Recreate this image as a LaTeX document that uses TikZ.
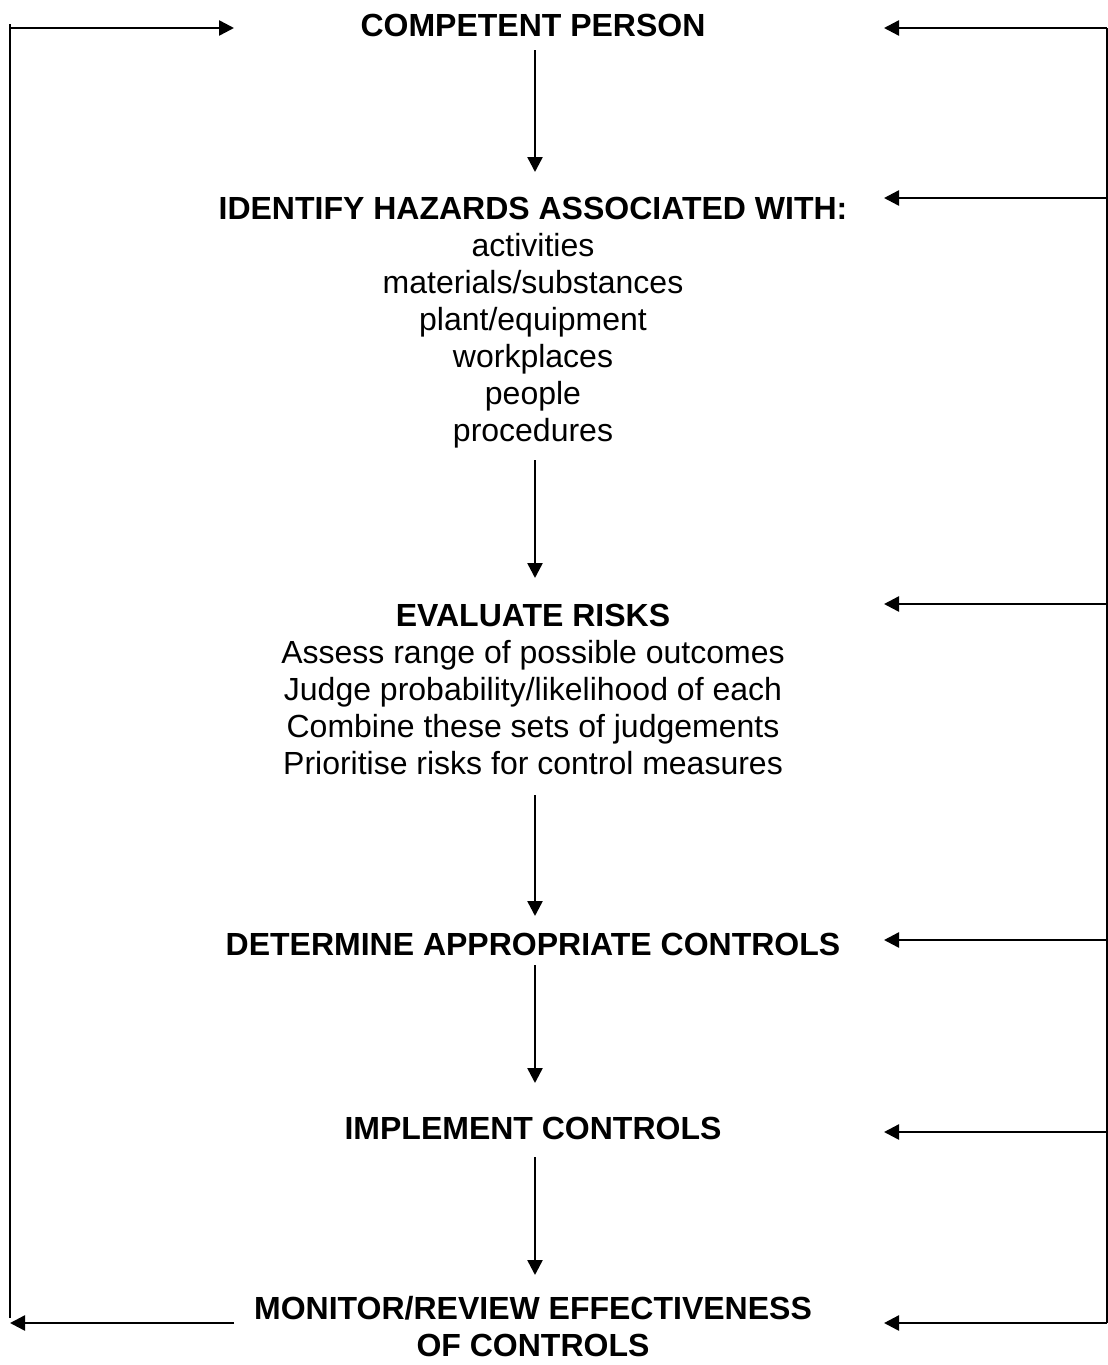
\documentclass[tikz,border=0pt]{standalone}
\usepackage{fontspec}
\setmainfont{Liberation Sans}
\usetikzlibrary{arrows.meta}
\begin{document}
\begin{tikzpicture}[x=0.5pt,y=-0.5pt,
  txt/.style={anchor=base,align=center,inner sep=0pt,font=\fontsize{16}{18.5}\selectfont},
  ttl/.style={txt,font=\fontsize{16}{18.5}\selectfont\bfseries},
  conn/.style={line width=1.25pt,-{Triangle[length=7.5pt,width=7.5pt]}},
  plain/.style={line width=1.25pt}]
\useasboundingbox (0,0) rectangle (1108,1365);
% text nodes (base anchor = baseline of the last line)
\node[ttl] (cp) at (533,36) {COMPETENT PERSON};
\node[ttl] (ih) at (533,219) {IDENTIFY HAZARDS ASSOCIATED WITH:};
\node[txt] (ihl) at (533,441) {activities\\materials/substances\\plant/equipment\\workplaces\\people\\procedures};
\node[ttl] (er) at (533,626) {EVALUATE RISKS};
\node[txt] (erl) at (533,774) {Assess range of possible outcomes\\Judge probability/likelihood of each\\Combine these sets of judgements\\Prioritise risks for control measures};
\node[ttl] (dc) at (533,955) {DETERMINE APPROPRIATE CONTROLS};
\node[ttl] (ic) at (533,1139) {IMPLEMENT CONTROLS};
\node[ttl] (mr) at (533,1356) {MONITOR/REVIEW EFFECTIVENESS\\OF CONTROLS};
% vertical flow arrows
\coordinate (v1s) at (535,50);   \coordinate (v1e) at (535,172);
\coordinate (v2s) at (535,460);  \coordinate (v2e) at (535,578);
\coordinate (v3s) at (535,795);  \coordinate (v3e) at (535,916);
\coordinate (v4s) at (535,965);  \coordinate (v4e) at (535,1083);
\coordinate (v5s) at (535,1157); \coordinate (v5e) at (535,1275);
\draw[conn] (v1s) -- (v1e);
\draw[conn] (v2s) -- (v2e);
\draw[conn] (v3s) -- (v3e);
\draw[conn] (v4s) -- (v4e);
\draw[conn] (v5s) -- (v5e);
% left loop
\coordinate (lb) at (10,1323);
\coordinate (lt) at (10,28);
\coordinate (ltip) at (234,28);
\coordinate (bst) at (234,1323);
\draw[plain] (10,1318) -- (10,24);
\draw[conn] (lt) -- (ltip);
\draw[conn] (bst) -- (lb);
% right loop
\coordinate (rt) at (1107,28);
\coordinate (rb) at (1107,1323);
\draw[plain] (rt) -- (rb);
\foreach \yy/\nm in {28/r1,198/r2,604/r3,940/r4,1132/r5,1323/r6}{
  \coordinate (\nm s) at (1107,\yy);
  \coordinate (\nm e) at (884,\yy);
  \draw[conn] (\nm s) -- (\nm e);
}
\end{tikzpicture}
\end{document}
